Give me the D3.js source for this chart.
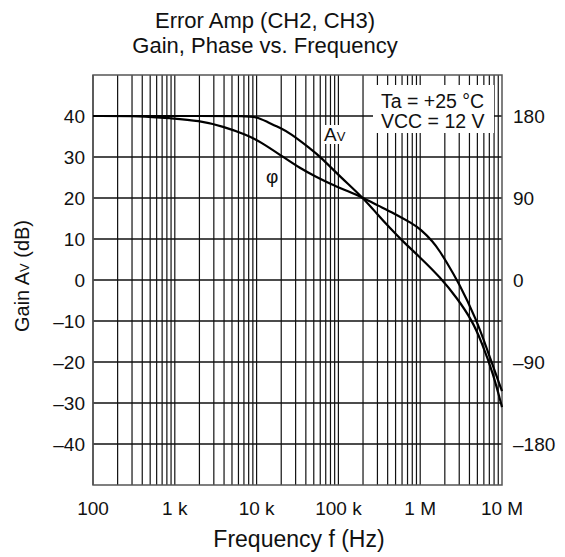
<!DOCTYPE html>
<html><head><meta charset="utf-8">
<script src="https://cdn.jsdelivr.net/npm/d3@7"></script>
<style>body{margin:0;background:#fff}svg{display:block;font-family:"Liberation Sans",Arial,sans-serif}</style>
</head><body>
<svg id="c" width="565" height="557"></svg>
<script>
// Data
const titleLines = ["Error Amp (CH2, CH3)", "Gain, Phase vs. Frequency"];
const gainFreq = [100, 3000, 7000, 10000, 13300, 20000, 25600, 45000, 62000, 105000, 202000, 300000, 430000, 600000, 1000000, 1750000, 2800000, 4300000, 5650000, 7800000, 10000000];
const gainDb   = [40, 40, 40, 39.8, 38.6, 37, 35.8, 32.1, 29.8, 25.2, 20, 16, 12.6, 9.6, 5.5, 0.7, -4.3, -9.8, -15.2, -22.8, -31];
const phaseFreq = [100, 400, 870, 2000, 3900, 7500, 11000, 19300, 34000, 54000, 80000, 130000, 202000, 300000, 470000, 800000, 1000000, 1440000, 1750000, 2090000, 2920000, 4900000, 6500000, 10000000];
const phaseDeg  = [180, 180, 177.5, 175, 168.5, 159.5, 152, 137.5, 122.5, 113, 105.5, 97.5, 90, 82, 73.5, 62, 56, 42, 31, 20, -2, -44, -75, -122];
const xTickValues = [100, 1000, 10000, 100000, 1000000, 10000000];
const xTickLabels = ["100", "1 k", "10 k", "100 k", "1 M", "10 M"];
const gainTicks = [40, 30, 20, 10, 0, -10, -20, -30, -40];
const gainTickLabels = ["40", "30", "20", "10", "0", "\u201310", "\u201320", "\u201330", "\u201340"];
const phaseTicks = [180, 90, 0, -90, -180];
const phaseTickLabels = ["180", "90", "0", "\u201390", "\u2013180"];
const conditions = ["Ta = +25 \u00B0C", "VCC = 12 V"];

const svg = d3.select("#c");
const L = 93, R = 502, T = 75, B = 485;
const x = d3.scaleLog().domain([100, 1e7]).range([L, R]);
const y = d3.scaleLinear().domain([-50, 50]).range([B, T]);
const yP = d3.scaleLinear().domain([-225, 225]).range([B, T]);

// grid
const g = svg.append("g");
const minor = [];
for (let d = 100; d < 1e7; d *= 10) for (let k = 1; k <= 9; k++) minor.push(d * k);
g.selectAll("line.v").data(minor).enter().append("line")
  .attr("x1", d => x(d)).attr("x2", d => x(d)).attr("y1", T).attr("y2", B)
  .attr("stroke", "#111").attr("stroke-width", 1.2);
g.selectAll("line.h").data(d3.range(-40, 50, 10)).enter().append("line")
  .attr("x1", L).attr("x2", R).attr("y1", d => y(d)).attr("y2", d => y(d))
  .attr("stroke", "#111").attr("stroke-width", 1.3);

// label backgrounds
svg.append("rect").attr("x", 373).attr("y", 85).attr("width", 121).attr("height", 48).attr("fill", "#fff");
svg.append("rect").attr("x", 322).attr("y", 125).attr("width", 29).attr("height", 19).attr("fill", "#fff");

// frame
svg.append("rect").attr("x", L).attr("y", T).attr("width", R - L).attr("height", B - T)
  .attr("fill", "none").attr("stroke", "#555").attr("stroke-width", 1.5);

// curves
const lineG = d3.line().x(d => x(d[0])).y(d => y(d[1])).curve(d3.curveBasis);
const lineP = d3.line().x(d => x(d[0])).y(d => yP(d[1])).curve(d3.curveBasis);
svg.append("path").attr("d", lineG(gainFreq.map((f, i) => [f, gainDb[i]])))
  .attr("fill", "none").attr("stroke", "#000").attr("stroke-width", 2.2);
svg.append("path").attr("d", lineP(phaseFreq.map((f, i) => [f, phaseDeg[i]])))
  .attr("fill", "none").attr("stroke", "#000").attr("stroke-width", 2.2);

// ticks text
const fs = 19;
svg.append("g").selectAll("text").data(gainTicks).enter().append("text")
  .attr("x", 85).attr("y", d => y(d) + 7).attr("text-anchor", "end")
  .attr("font-size", fs).attr("fill", "#111").text((d, i) => gainTickLabels[i]);
svg.append("g").selectAll("text").data(phaseTicks).enter().append("text")
  .attr("x", 513).attr("y", d => yP(d) + 7).attr("text-anchor", "start")
  .attr("font-size", fs).attr("fill", "#111").text((d, i) => phaseTickLabels[i]);
svg.append("g").selectAll("text").data(xTickValues).enter().append("text")
  .attr("x", d => x(d)).attr("y", 515).attr("text-anchor", "middle")
  .attr("font-size", fs).attr("fill", "#111").text((d, i) => xTickLabels[i]);

// titles
svg.selectAll("text.title").data(titleLines).enter().append("text")
  .attr("x", 265).attr("y", (d, i) => 28 + i * 25).attr("text-anchor", "middle")
  .attr("font-size", 22).attr("fill", "#111").text(d => d);
svg.append("text").attr("x", 299).attr("y", 547).attr("text-anchor", "middle")
  .attr("font-size", 23).attr("fill", "#111").text("Frequency f (Hz)");
const yt = svg.append("text").attr("transform", "translate(29,276) rotate(-90)")
  .attr("text-anchor", "middle").attr("font-size", 20).attr("fill", "#111");
yt.append("tspan").text("Gain A");
yt.append("tspan").attr("font-size", 13).text("V");
yt.append("tspan").text(" (dB)");

// annotations
svg.selectAll("text.cond").data(conditions).enter().append("text")
  .attr("x", 381).attr("y", (d, i) => 108 + i * 20).attr("text-anchor", "start")
  .attr("font-size", 19.5).attr("fill", "#111").text(d => d);
const av = svg.append("text").attr("x", 324).attr("y", 141).attr("font-size", 19).attr("fill", "#111");
av.append("tspan").text("A");
av.append("tspan").attr("font-size", 13).text("V");
svg.append("text").attr("x", 266).attr("y", 183).attr("font-size", 19).attr("fill", "#111").text("\u03C6");
</script>
</body></html>
